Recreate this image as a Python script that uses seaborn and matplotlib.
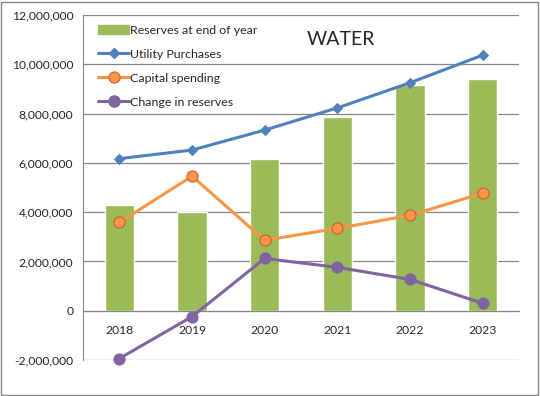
import numpy as np
import pandas as pd
import matplotlib
matplotlib.use("Agg")
import matplotlib.pyplot as plt
import seaborn as sns
from matplotlib.patches import Rectangle, Patch
from matplotlib.lines import Line2D
from matplotlib.ticker import FuncFormatter, MultipleLocator, FixedLocator

# Données
years = ["2018", "2019", "2020", "2021", "2022", "2023"]
reserves = [4280000, 4000000, 6140000, 7880000, 9140000, 9420000]
utility_purchases = [6170000, 6520000, 7330000, 8230000, 9250000, 10370000]
capital_spending = [3580000, 5460000, 2860000, 3340000, 3870000, 4770000]
change_reserves = [-1940000, -240000, 2120000, 1760000, 1270000, 300000]

df = pd.DataFrame({
    "year": years,
    "pos": np.arange(len(years)),
    "reserves": reserves,
    "utility": utility_purchases,
    "capital": capital_spending,
    "change": change_reserves,
})

sns.set_style("white")
plt.rcParams["font.family"] = ["Lato", "DejaVu Sans"]

GREEN = "#9BBB59"
BLUE = "#4F81BD"
ORANGE = "#F79646"
PURPLE = "#8064A2"
GRID = "#868686"

fig = plt.figure(figsize=(5.4, 3.96), dpi=100)
ax = fig.add_axes([83 / 540, 1 - 360 / 396, 436 / 540, 345 / 396])

sns.barplot(data=df, x="pos", y="reserves", color=GREEN, width=0.4,
            saturation=1, ax=ax, zorder=2, native_scale=True)

sns.lineplot(data=df, x="pos", y="utility", color=BLUE, lw=2.2, marker="D",
             markersize=5.5, markeredgecolor=BLUE, ax=ax, zorder=4, clip_on=False)
sns.lineplot(data=df, x="pos", y="capital", color=ORANGE, lw=2.2, marker="o",
             markersize=8, markeredgecolor="#D9582B", markeredgewidth=0.8,
             ax=ax, zorder=4, clip_on=False)
sns.lineplot(data=df, x="pos", y="change", color=PURPLE, lw=2.2, marker="o",
             markersize=8, markeredgecolor=PURPLE, ax=ax, zorder=4, clip_on=False)

ax.set_xlim(-0.5, 5.5)
ax.set_ylim(-2000000, 12000000)
ax.yaxis.set_major_locator(MultipleLocator(2000000))
ax.yaxis.set_major_formatter(FuncFormatter(lambda v, p: f"{int(v):,}"))
ax.grid(axis="y", color=GRID, lw=0.9, zorder=0)
ax.set_axisbelow(True)

# axe des catégories à zéro
ax.spines["bottom"].set_position(("data", 0))
ax.spines["bottom"].set_color(GRID)
ax.spines["left"].set_color(GRID)
ax.spines["top"].set_visible(False)
ax.spines["right"].set_visible(False)
ax.set_xticks(df["pos"])
ax.set_xticklabels(years)
ax.xaxis.set_minor_locator(FixedLocator(np.arange(-0.5, 6, 1)))
ax.tick_params(axis="x", which="major", length=0, pad=10, labelsize=8.7)
ax.tick_params(axis="x", which="minor", length=5, color=GRID, direction="out")
ax.tick_params(axis="y", length=4, color=GRID, labelsize=8.7, pad=3)
ax.set_xlabel("")
ax.set_ylabel("")

ax.text(0.514, 0.928, "WATER", transform=ax.transAxes, fontsize=14,
        ha="left", va="center")

handles = [
    Patch(color=GREEN),
    Line2D([], [], color=BLUE, lw=2.2, marker="D", markersize=5.5),
    Line2D([], [], color=ORANGE, lw=2.2, marker="o", markersize=8,
           markeredgecolor="#D9582B", markeredgewidth=0.8),
    Line2D([], [], color=PURPLE, lw=2.2, marker="o", markersize=8),
]
labels = ["Reserves at end of year", "Utility Purchases", "Capital spending",
          "Change in reserves"]
ax.legend(handles, labels, loc="upper left", bbox_to_anchor=(0.035, 0.972),
          frameon=False, fontsize=8.9, borderpad=0, borderaxespad=0,
          labelspacing=1.05, handlelength=2.5, handletextpad=0.1,
          handleheight=0.7)

fig.patches.append(Rectangle((0.002, 0.003), 0.995, 0.993, transform=fig.transFigure,
                             fill=False, edgecolor=GRID, lw=1))

fig.savefig("out.png", dpi=100)
